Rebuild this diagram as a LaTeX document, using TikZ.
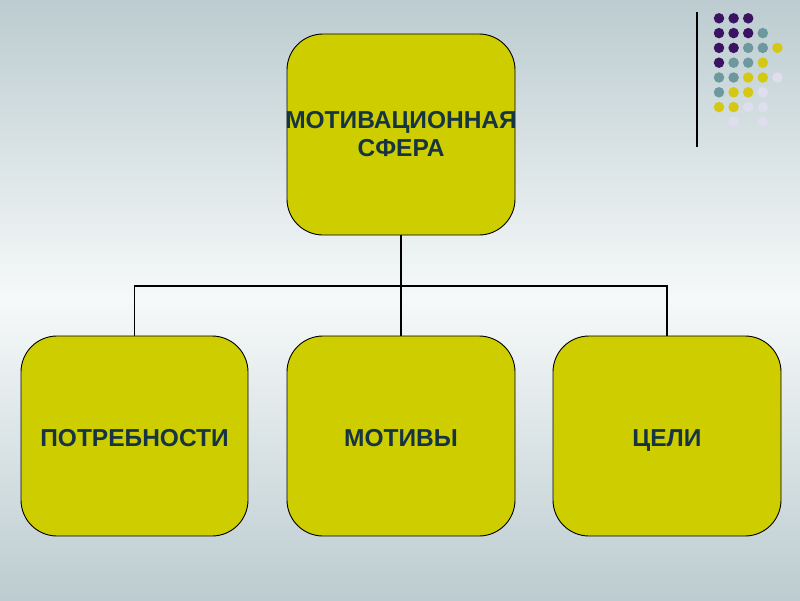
\documentclass[tikz,border=0pt]{standalone}
\usepackage{fontspec}
\setmainfont{Liberation Sans}
\definecolor{bgedge}{RGB}{188,204,208}
\definecolor{bgmid}{RGB}{246,249,249}
\definecolor{boxfill}{RGB}{206,205,0}
\definecolor{txt}{RGB}{22,52,66}
\definecolor{dP}{RGB}{60,18,98}
\definecolor{dT}{RGB}{108,152,158}
\definecolor{dY}{RGB}{212,200,20}
\definecolor{dL}{RGB}{222,222,238}
\tikzset{
  card/.style={draw=black, line width=0.9pt, fill=boxfill, rounded corners=36pt,
    inner sep=0pt, text=txt, font=\bfseries\fontsize{24.5}{28}\selectfont, align=center},
  onel/.style={text height=25.5pt, text depth=5pt},
  link/.style={draw=black, line width=1.8pt},
  dot/.style={circle, inner sep=0pt, minimum size=10.5pt}
}
\begin{document}
\begin{tikzpicture}[x=1pt,y=-1pt]
\useasboundingbox (0,0) rectangle (800,600);
\shade[top color=bgedge, bottom color=bgedge, middle color=bgmid] (0,0) rectangle (800,600);
% decoration
\draw[line width=1.2pt] (697,12) -- (697,147);
\foreach \c/\r/\col in {0/0/dP,1/0/dP,2/0/dP,
  0/1/dP,1/1/dP,2/1/dP,3/1/dT,
  0/2/dP,1/2/dP,2/2/dT,3/2/dT,4/2/dY,
  0/3/dP,1/3/dT,2/3/dT,3/3/dY,
  0/4/dT,1/4/dT,2/4/dY,3/4/dY,4/4/dL,
  0/5/dT,1/5/dY,2/5/dY,3/5/dL,
  0/6/dY,1/6/dY,2/6/dL,3/6/dL,
  1/7/dL,3/7/dL}
  \node[dot, fill=\col] at ({719+14.6*\c},{18.3+14.8*\r}) {};
% boxes
\node[card, inner xsep=-2pt, minimum width=228pt, minimum height=201pt] (top) at (401,134.5) {МОТИВАЦИОННАЯ\\СФЕРА};
\node[card, onel, minimum width=227pt, minimum height=200pt] (need) at (134.5,436) {ПОТРЕБНОСТИ};
\node[card, onel, minimum width=228pt, minimum height=200pt] (motiv) at (401,436) {МОТИВЫ};
\node[card, onel, minimum width=228pt, minimum height=200pt] (goal) at (667,436) {ЦЕЛИ};
\coordinate (bus) at (401,286);
\draw[link] (top.south) -- (motiv.north);
\draw[link] (need.north) |- (bus) -| (goal.north);
\end{tikzpicture}
\end{document}
